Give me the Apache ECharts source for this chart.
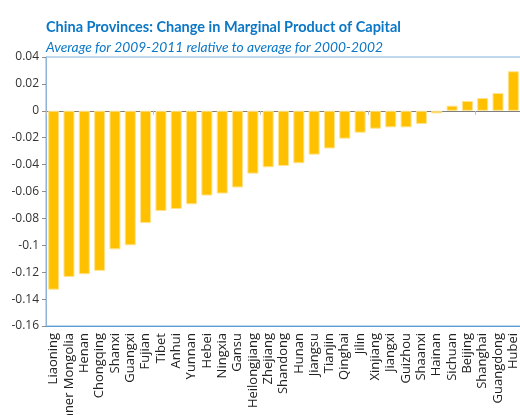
<!DOCTYPE html>
<html>
<head>
<meta charset="utf-8">
<title>China Provinces MPK</title>
<script src="https://cdn.jsdelivr.net/npm/echarts@6/dist/echarts.min.js"></script>
<style>
    html, body { margin: 0; padding: 0; background: #fff; }
    #chart { width: 520px; height: 415px; }
</style>
</head>
<body>
<div id="chart"></div>
<script>
    //省份
    var provinces = ['Liaoning', 'Inner Mongolia', 'Henan', 'Chongqing', 'Shanxi', 'Guangxi', 'Fujian', 'Tibet',
        'Anhui', 'Yunnan', 'Hebei', 'Ningxia', 'Gansu', 'Heilongjiang', 'Zhejiang', 'Shandong', 'Hunan',
        'Jiangsu', 'Tianjin', 'Qinghai', 'Jilin', 'Xinjiang', 'Jiangxi', 'Guizhou', 'Shaanxi', 'Hainan',
        'Sichuan', 'Beijing', 'Shanghai', 'Guangdong', 'Hubei'];
    //资本边际产出变化
    var mpkChange = [-0.133, -0.1235, -0.1215, -0.119, -0.103, -0.100, -0.0835, -0.0745,
        -0.073, -0.0695, -0.063, -0.0615, -0.057, -0.0467, -0.042, -0.041, -0.039,
        -0.0326, -0.028, -0.0207, -0.0163, -0.0133, -0.0123, -0.0123, -0.0098, -0.0019,
        0.0038, 0.0073, 0.0095, 0.0132, 0.0294];
    //纵轴刻度
    var yMin = -0.16, yMax = 0.04, yStep = 0.02;

    var titleText = 'China Provinces: Change in Marginal Product of Capital';
    var subText = 'Average for 2009-2011 relative to average for 2000-2002';

    var chart = echarts.init(document.getElementById('chart'), null, {renderer: 'canvas'});
    var option = {
        animation: false,
        title: [
            {
                text: titleText,
                left: 41, top: 15,
                textStyle: {color: '#0b77c5', fontSize: 14.5, fontWeight: 'bold', fontFamily: 'Lato'}
            },
            {
                text: subText,
                left: 41, top: 36,
                textStyle: {color: '#0b77c5', fontSize: 13.8, fontStyle: 'italic', fontWeight: 'normal', fontFamily: 'Lato'}
            }
        ],
        grid: {
            left: 46, top: 57, width: 475, height: 269,
            outerBoundsMode: 'none',
            containLabel: false,
            show: true, borderColor: '#7fb0dc', borderWidth: 1
        },
        xAxis: [
            {
                //零线和刻度
                type: 'category',
                data: provinces,
                axisLine: {onZero: true, lineStyle: {color: '#7f7f7f', width: 1}},
                axisTick: {show: true, length: 4, lineStyle: {color: '#bdbdbd'}},
                axisLabel: {show: false}
            },
            {
                //底部标签
                type: 'category',
                data: provinces,
                position: 'bottom',
                axisLine: {onZero: false, lineStyle: {color: '#5b9bd5'}},
                axisTick: {show: false},
                axisLabel: {
                    rotate: 90, interval: 0, margin: 7,
                    color: '#222', fontSize: 13, fontFamily: 'Open Sans'
                }
            }
        ],
        yAxis: {
            type: 'value',
            min: yMin, max: yMax, interval: yStep,
            axisLine: {show: true, lineStyle: {color: '#8fb4d8'}},
            axisTick: {show: true, length: 4, lineStyle: {color: '#8c8c8c'}},
            splitLine: {show: false},
            axisLabel: {
                margin: 7, color: '#333', fontSize: 12, fontFamily: 'Open Sans',
                formatter: function (v) {
                    return String(Math.round(v * 100) / 100);
                }
            }
        },
        series: [{
            type: 'bar',
            xAxisIndex: 0,
            data: mpkChange,
            barWidth: 11,
            itemStyle: {color: '#ffc000', borderColor: '#ffe38a', borderWidth: 1}
        }]
    };
    chart.setOption(option);
</script>
</body>
</html>
